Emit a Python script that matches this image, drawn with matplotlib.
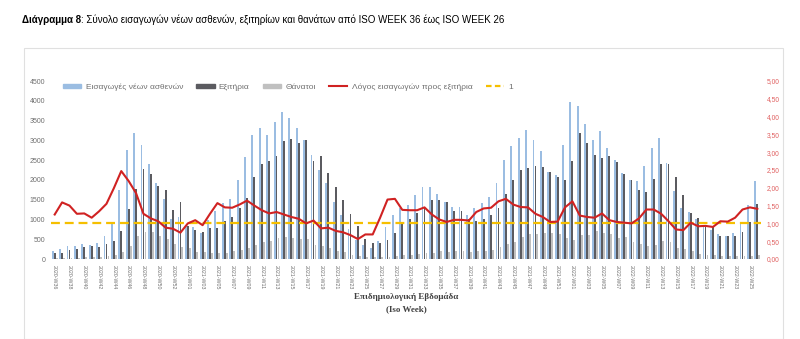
import matplotlib.pyplot as plt
from matplotlib.patches import Rectangle, Patch
from matplotlib.lines import Line2D
from matplotlib.ticker import FuncFormatter
import numpy as np

# ISO weeks 2020-W36 ... 2022-W26
weeks = ([f"2020-W{w:02d}" for w in range(36, 54)] +
         [f"2021-W{w:02d}" for w in range(1, 53)] +
         [f"2022-W{w:02d}" for w in range(1, 27)])

admissions = [200, 245, 330, 320, 380, 345, 410, 570, 930,
              1745, 2757, 3195, 2875, 2400, 1930, 1517, 1010, 1060,
              845, 800, 660, 985, 1220, 1410, 1520,
              1990, 2570, 3136, 3305, 3136, 3456, 3709, 3557, 3305, 3010, 2630,
              2245, 1917, 1437, 1125, 758, 472, 347, 272, 457, 812, 1105, 1277,
              1358, 1626, 1810, 1810, 1634, 1441, 1316, 1316, 1106, 1299, 1416, 1559,
              1928, 2514, 2849, 3050, 3260, 3017, 2732, 2204, 2112, 2882, 3972, 3872,
              3411, 3017, 3243, 2807, 2506, 2170, 1986, 1961, 2346, 2807, 3067, 2430,
              1709, 1299, 1182, 1006, 813, 729, 620, 587, 645, 939, 1358, 1961]

discharges = [150, 160, 218, 260, 302, 318, 310, 369, 460,
              706, 1270, 1760, 2268, 2140, 1840, 1750, 1239, 1433,
              843, 733, 691, 776, 790, 964, 1064,
              1300, 1550, 2080, 2405, 2480, 2610, 2990, 3040, 2920, 3010, 2490,
              2610, 2179, 1819, 1500, 1131, 843, 503, 394, 394, 486, 654, 939,
              1012, 1170, 1300, 1484, 1500, 1430, 1210, 1210, 1000, 970, 1005, 1100,
              1300, 1650, 2000, 2250, 2300, 2344, 2318, 2200, 2080, 2000, 2470, 3190,
              2930, 2640, 2560, 2600, 2460, 2160, 1989, 1740, 1700, 2020, 2410, 2400,
              2065, 1620, 1170, 1040, 800, 815, 588, 570, 575, 675, 936, 1400]

deaths = [20, 25, 30, 35, 40, 45, 55, 70, 100,
          180, 320, 573, 690, 690, 590, 506, 388, 312,
          287, 185, 170, 150, 140, 160, 200,
          230, 270, 350, 440, 450, 520, 550, 520, 510, 500, 360,
          340, 280, 200, 170, 110, 80, 60, 50, 50, 60, 70, 90,
          100, 120, 140, 160, 200, 180, 200, 210, 180, 190, 200, 240,
          300, 380, 420, 560, 620, 640, 660, 650, 630, 530, 480, 600,
          600, 700, 660, 620, 540, 560, 425, 380, 340, 350, 450, 420,
          283, 260, 200, 125, 100, 90, 80, 70, 70, 70, 80, 100]

ratio = [1.25, 1.59, 1.50, 1.27, 1.28, 1.16, 1.34, 1.55, 1.99,
         2.47, 2.19, 1.85, 1.27, 1.14, 1.06, 0.88, 0.85, 0.74,
         1.00, 1.09, 0.95, 1.27, 1.57, 1.45, 1.44,
         1.53, 1.64, 1.50, 1.37, 1.28, 1.32, 1.25, 1.18, 1.13, 1.00, 1.08,
         0.86, 0.88, 0.79, 0.75, 0.67, 0.56, 0.69, 0.69, 1.16, 1.67, 1.69, 1.38,
         1.37, 1.37, 1.45, 1.25, 1.11, 1.04, 1.10, 1.10, 1.08, 1.32, 1.42, 1.44,
         1.62, 1.69, 1.53, 1.46, 1.45, 1.27, 1.18, 1.04, 1.05, 1.45, 1.62, 1.22,
         1.18, 1.16, 1.28, 1.09, 1.04, 1.02, 1.00, 1.14, 1.39, 1.39, 1.27, 1.06,
         0.83, 0.81, 1.02, 0.92, 0.93, 0.90, 1.06, 1.05, 1.16, 1.39, 1.45, 1.41]

blue = '#9bbde2'
dark = '#5b5b60'
light = '#c0c0c0'
red = '#d02222'
yellow = '#f5bf00'
grey_txt = '#6f6f6f'

sans = ['Liberation Sans', 'DejaVu Sans']

fig = plt.figure(figsize=(8, 3.39), dpi=100)

# thin frame around the chart area
fig.patches.append(Rectangle((24 / 800, 0), 759 / 800, 1 - 48 / 339,
                             transform=fig.transFigure, fill=False,
                             edgecolor='#e0e0e0', lw=0.8))

ax = fig.add_axes([51 / 800, 1 - 259 / 339, 710 / 800, 178 / 339])
x = np.arange(len(weeks))
bw = 0.25
ax.bar(x - 0.27, admissions, bw, color=blue)
ax.bar(x, discharges, bw, color=dark)
ax.bar(x + 0.27, deaths, bw, color=light)

ax.set_xlim(-0.5, len(weeks) - 0.5)
ax.set_ylim(0, 4500)
ax.set_yticks(range(0, 4501, 500))
ax.set_xticks(x[::2])
ax.set_xticklabels(weeks[::2], rotation=270, fontsize=3.8, color=grey_txt,
                   family=sans)
for lab in ax.get_yticklabels():
    lab.set_fontsize(5)
    lab.set_color(grey_txt)
    lab.set_family(sans)
ax.tick_params(length=0, pad=4)
for s in ax.spines.values():
    s.set_visible(False)

ax2 = ax.twinx()
ax2.plot(x, ratio, color=red, lw=1.5, zorder=3)
ax2.axhline(1, color=yellow, lw=1.6, dashes=(4, 2.2), zorder=2)
ax2.set_ylim(0, 5)
ax2.set_yticks(np.arange(0, 5.01, 0.5))
ax2.yaxis.set_major_formatter(FuncFormatter(lambda v, p: f"{v:.2f}".replace('.', ',')))
for lab in ax2.get_yticklabels():
    lab.set_fontsize(4.8)
    lab.set_color('#e06060')
    lab.set_family(sans)
ax2.tick_params(length=0, pad=4)
for s in ax2.spines.values():
    s.set_visible(False)

handles = [Patch(color=blue), Patch(color=dark), Patch(color=light),
           Line2D([], [], color=red, lw=1.5),
           Line2D([], [], color=yellow, lw=1.6, dashes=(2.5, 1.5))]
labels = ['Εισαγωγές νέων ασθενών', 'Εξιτήρια', 'Θάνατοι',
          'Λόγος εισαγωγών προς εξιτήρια', '1']
fig.legend(handles, labels, loc='center', bbox_to_anchor=(288 / 800, 1 - 87 / 339),
           ncol=5, frameon=False, handlelength=2.2, handleheight=0.45,
           handletextpad=0.5, columnspacing=1.6,
           prop={'family': sans, 'size': 6}, labelcolor=grey_txt)

fig.text(406 / 800, 1 - 297 / 339, 'Επιδημιολογική Εβδομάδα', ha='center',
         va='center', family=['Liberation Serif', 'DejaVu Serif'],
         fontweight='bold', fontsize=6.5, color='#404040')
fig.text(406 / 800, 1 - 309 / 339, '(Iso Week)', ha='center', va='center',
         family=['Liberation Serif', 'DejaVu Serif'], fontweight='bold',
         fontsize=6.5, color='#404040')

# title: bold prefix followed by regular text
title_font = ['Liberation Sans', 'DejaVu Sans']
t1 = fig.text(22 / 800, 1 - 20 / 339, 'Διάγραμμα 8', ha='left', va='center',
              family=title_font, fontweight='bold', fontsize=7.0, color='black')
fig.canvas.draw()
bb = t1.get_window_extent(fig.canvas.get_renderer())
fig.text(bb.x1 / fig.bbox.width, 1 - 20 / 339,
         ': Σύνολο εισαγωγών νέων ασθενών, εξιτηρίων και θανάτων από ISO WEEK 36 έως ISO WEEK 26',
         ha='left', va='center', family=title_font, fontsize=7.0, color='black')

fig.savefig('out.png', dpi=100)
